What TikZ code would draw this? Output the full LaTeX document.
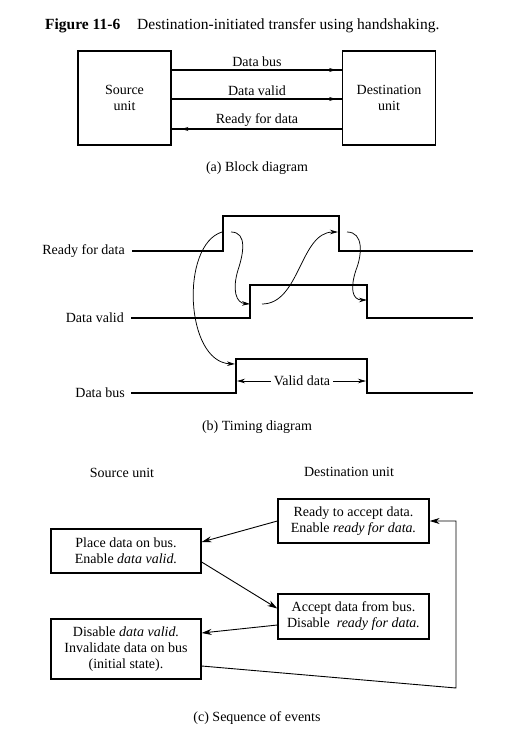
\documentclass[tikz,border=0pt]{standalone}
\usepackage{fontspec}
\setmainfont{Liberation Serif}
\usetikzlibrary{arrows.meta,decorations.markings,calc}
\tikzset{
  txt/.style={inner sep=0pt, font=\fontsize{14}{17}\selectfont},
  unitbox/.style={draw, line width=1.3pt, minimum width=93pt, minimum height=94pt, align=center, font=\fontsize{14}{16}\selectfont},
  evbox/.style={draw, line width=1.3pt, align=center, font=\fontsize{14}{16}\selectfont, inner sep=0pt},
  sig/.style={line width=2pt, line join=miter},
  bus/.style={line width=1.1pt},
  tipR/.style={postaction={decorate}, decoration={markings, mark=at position #1 with {\arrow{Stealth[length=7pt,width=4pt]}}}},
  arr/.style={line width=0.9pt, -{Stealth[length=10pt,width=6pt]}},
  thin/.style={line width=0.75pt, -{Stealth[length=8pt,width=4.5pt]}},
}
\begin{document}
\begin{tikzpicture}[x=1pt,y=-1pt]
\useasboundingbox (0,0) rectangle (531,737);
% title
\node[txt, anchor=base west, font=\fontsize{15.5}{17}\selectfont\bfseries] (fig) at (45,29) {Figure 11-6};
\node[txt, anchor=base west, font=\fontsize{15.5}{17}\selectfont] (ttl) at (137,29) {Destination-initiated transfer using handshaking.};
% (a) block diagram
\node[unitbox] (src) at (124.5,98) {Source\\unit};
\node[unitbox] (dst) at (389,98) {Destination\\unit};
\coordinate (s1) at (171,70); \coordinate (d1) at (343,70);
\coordinate (s2) at (171,99); \coordinate (d2) at (343,99);
\coordinate (s3) at (171,129); \coordinate (d3) at (343,129);
\draw[bus, tipR=0.96] (s1) -- (d1);
\draw[bus, tipR=0.96] (s2) -- (d2);
\draw[bus, tipR=0.94] (d3) -- (s3);
\node[txt] (lbus) at (257,62) {Data bus};
\node[txt] (lval) at (257,91) {Data valid};
\node[txt] (lrdy) at (257,120) {Ready for data};
\node[txt] (capa) at (257,168) {(a) Block diagram};
% (b) timing diagram
\node[txt, anchor=east] (trdy) at (125,251) {Ready for data};
\node[txt, anchor=east] (tval) at (124,318) {Data valid};
\node[txt, anchor=east] (tbus) at (125,393) {Data bus};
\draw[sig] (132,251) -- (223,251) -- (223,216) -- (339,216) -- (339,251) -- (473,251);
\draw[sig] (131,318) -- (250,318) -- (250,285) -- (367,285) -- (367,318) -- (473,318);
\draw[sig] (131,393) -- (236,393) -- (236,359) -- (367,359) -- (367,393) -- (473,393);
\node[txt, fill=white, inner xsep=3pt] (vd) at (302,381) {Valid data};
\coordinate (vdl) at (237,381); \coordinate (vdr) at (366,381);
\draw[thin] (vd.west) -- (vdl);
\draw[thin] (vd.east) -- (vdr);
\draw[thin] (222,232) .. controls (180,245) and (185,362) .. (235,364);
\draw[thin] (231,232) .. controls (248,232) and (243,255) .. (238,270) .. controls (232,290) and (236,303) .. (250,304);
\draw[thin] (262,304) .. controls (300,304) and (300,232) .. (338,232);
\draw[thin] (347,232) .. controls (364,232) and (362,255) .. (356,270) .. controls (350,288) and (352,300) .. (367,300);
\node[txt] (capb) at (257,427) {(b) Timing diagram};
% (c) sequence of events
\node[txt] (hsrc) at (122,473) {Source unit};
\node[txt] (hdst) at (349,472) {Destination unit};
\node[evbox, minimum width=151pt, minimum height=44pt] (R) at (353.5,521) {Ready to accept data.\\Enable \textit{ready for data.}};
\node[evbox, minimum width=150pt, minimum height=44pt] (P) at (126,551) {Place data on bus.\\Enable \textit{data valid.}};
\node[evbox, minimum width=151pt, minimum height=45pt] (A) at (353.5,616.5) {Accept data from bus.\\Disable \ \textit{ready for data.}};
\node[evbox, minimum width=150pt, minimum height=60pt] (D) at (126,649) {Disable \textit{data valid.}\\Invalidate data on bus\\(initial state).};
\draw[arr] (R.west) -- ($(P.east)+(0,-9)$);
\draw[arr] ($(P.east)+(0,11)$) -- ($(A.west)+(0,-8)$);
\draw[arr] ($(A.west)+(0,8.5)$) -- ($(D.east)+(0,-16)$);
\coordinate (c1) at (456,688);
\coordinate (c2) at (456,521);
\draw[arr] ($(D.east)+(0,17)$) -- (c1) -- (c2) -- (R.east);
\node[txt] (capc) at (257,718) {(c) Sequence of events};
\end{tikzpicture}
\end{document}
